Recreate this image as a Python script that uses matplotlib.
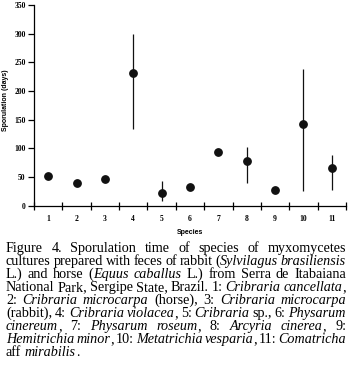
import matplotlib
matplotlib.use("Agg")
import matplotlib.pyplot as plt

species = [1, 2, 3, 4, 5, 6, 7, 8, 9, 10, 11]
sporulation = [52, 40, 47, 231, 22, 33, 93, 78, 27, 142, 65]
err_low = [52, 40, 47, 134, 8, 33, 93, 40, 25, 26, 27]
err_high = [52, 40, 47, 300, 43, 33, 93, 103, 30, 239, 88]
y_ticks = [0, 50, 100, 150, 200, 250, 300, 350]

caption_lines = [
    "Figure 4. Sporulation time of species of myxomycetes",
    "cultures prepared with feces of rabbit (*Sylvilagus brasiliensis*",
    "L.) and horse (*Equus caballus* L.) from Serra de Itabaiana",
    "National Park, Sergipe State, Brazil. 1: *Cribraria cancellata*,",
    "2: *Cribraria microcarpa* (horse), 3: *Cribraria microcarpa*",
    "(rabbit), 4: *Cribraria violacea*, 5: *Cribraria* sp., 6: *Physarum*",
    "*cinereum*, 7: *Physarum roseum*, 8: *Arcyria cinerea*, 9:",
    "*Hemitrichia minor*, 10: *Metatrichia vesparia*, 11: *Comatricha*",
    "aff *mirabilis*.",
]

W, H = 352, 378
fig = plt.figure(figsize=(W / 100, H / 100), dpi=100)
ax = fig.add_axes([34 / W, 1 - 205.7 / H, 312 / W, 200.7 / H])

yerr = [[s - lo for s, lo in zip(sporulation, err_low)],
        [hi - s for s, hi in zip(sporulation, err_high)]]
ax.errorbar(species, sporulation, yerr=yerr, fmt="o", color="#111111",
            markersize=5.3, elinewidth=0.9, capsize=0)

ax.set_xlim(0.5, 11.5)
ax.set_ylim(0, 350)
for s in ["top", "right"]:
    ax.spines[s].set_visible(False)
for s in ["left", "bottom"]:
    ax.spines[s].set_linewidth(0.9)

ax.set_xticks([i + 0.5 for i in range(0, 12)])
ax.set_xticklabels([])
ax.set_xticks(species, minor=True)
ax.set_xticklabels([str(s) for s in species], minor=True)
ax.tick_params(axis="x", which="major", direction="inout", length=6, width=0.9)
ax.tick_params(axis="x", which="minor", length=0, pad=7)
ax.set_yticks(y_ticks)
ax.tick_params(axis="y", direction="out", length=4, width=0.9, pad=2)
for lab in ax.get_xticklabels(minor=True) + ax.get_yticklabels():
    lab.set_fontfamily("Liberation Serif")
    lab.set_fontweight("bold")
    lab.set_fontsize(5.5)

fig.text(6 / W, 1 - 100 / H, "Sporulation (days)", rotation=90,
         ha="center", va="center", fontfamily="Liberation Sans",
         fontweight="bold", fontsize=5)
fig.text(190 / W, 1 - 232 / H, "Species", ha="center", va="center",
         fontfamily="Liberation Sans", fontweight="bold", fontsize=5)

# justified caption
renderer = fig.canvas.get_renderer()
left, right = 6, 346
font = dict(fontfamily="Liberation Serif", fontsize=10)


def word_pieces(line):
    # italic state carries across words
    words = []
    italic = False
    for w in line.split(" "):
        pieces = []
        buf = ""
        for ch in w:
            if ch == "*":
                if buf:
                    pieces.append((buf, italic))
                buf = ""
                italic = not italic
            else:
                buf += ch
        if buf:
            pieces.append((buf, italic))
        words.append(pieces)
    return words


def width_of(text, italic):
    t = fig.text(0, 0, text, style="italic" if italic else "normal", **font)
    w = t.get_window_extent(renderer).width
    t.remove()
    return w


# pick size so that "cultures prepared with feces of" is ~174 px wide
font["fontsize"] = 10 * 174 / width_of("cultures prepared with feces of", False)

space_w = width_of("a a", False) - width_of("aa", False)
y0 = 252
dy = 13.0
for i, line in enumerate(caption_lines):
    words = word_pieces(line)
    widths = [[width_of(p, it) for p, it in wd] for wd in words]
    totals = [sum(w) for w in widths]
    last = i == len(caption_lines) - 1
    if last or len(words) == 1:
        gap = space_w
    else:
        gap = (right - left - sum(totals)) / (len(words) - 1)
    x = left
    y = 1 - (y0 + i * dy) / H
    for wd, ws, tot in zip(words, widths, totals):
        xx = x
        for (p, it), w in zip(wd, ws):
            fig.text(xx / W, y, p, style="italic" if it else "normal",
                     va="baseline", ha="left", **font)
            xx += w
        x += tot + gap

fig.savefig("out.png", dpi=100)
